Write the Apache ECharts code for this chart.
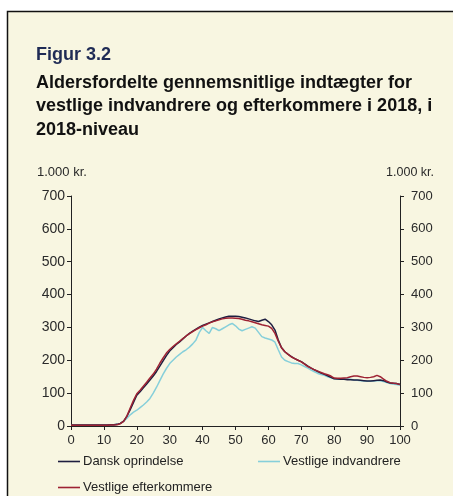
<!DOCTYPE html>
<html>
<head>
<meta charset="utf-8">
<script src="https://cdn.jsdelivr.net/npm/echarts@6/dist/echarts.min.js"></script>
<style>
  html, body { margin: 0; padding: 0; background: #fff; }
  #chart { width: 453px; height: 496px; }
</style>
</head>
<body>
<div id="chart"></div>
<script>
// alder 0-100
const ages = Array.from({ length: 101 }, (_, i) => i);

const dansk = [
  3, 3, 3, 3, 3, 3, 3, 3, 3, 3,
  3, 3, 4, 4, 5, 8, 15, 30, 50, 72,
  94, 104, 116, 128, 140, 152, 166, 182, 198, 214,
  228, 238, 248, 256, 265, 274, 282, 289, 295, 301,
  306, 310, 314, 318, 322, 326, 329, 332, 334, 334,
  334, 333, 331, 329, 326, 323, 320, 318, 322, 325,
  318, 308, 292, 262, 238, 226, 218, 211, 205, 200,
  196, 189, 182, 176, 171, 166, 161, 157, 153, 148,
  144, 143, 142, 142, 141, 141, 140, 140, 139, 138,
  137, 137, 138, 139, 140, 138, 134, 131, 130, 129,
  127
];

const indvandrere = [
  3, 3, 3, 3, 3, 3, 3, 3, 3, 3,
  3, 3, 3, 3, 5, 8, 14, 24, 34, 42,
  48, 56, 64, 73, 84, 100, 118, 138, 158, 175,
  190, 200, 210, 218, 226, 232, 240, 250, 262, 285,
  300, 290, 282, 300, 296, 290, 296, 302, 308, 312,
  305, 295, 290, 294, 298, 302, 298, 285, 272, 268,
  265, 262, 255, 232, 210, 200, 196, 192, 190, 190,
  186, 181, 176, 170, 165, 160, 157, 154, 150, 147,
  144, 143, 143, 144, 144, 142, 140, 139, 138, 137,
  136, 136, 137, 138, 138, 135, 132, 129, 127, 126,
  124
];

const efterkommere = [
  2, 2, 2, 2, 2, 2, 2, 2, 2, 2,
  2, 2, 3, 3, 4, 7, 14, 30, 55, 78,
  98, 109, 121, 133, 146, 158, 173, 191, 207, 222,
  233, 242, 250, 258, 266, 274, 281, 287, 293, 299,
  304, 308, 313, 317, 320, 323, 326, 328, 329, 329,
  328, 327, 325, 322, 320, 317, 314, 311, 308, 306,
  304, 297, 282, 258, 238, 226, 218, 210, 205, 200,
  195, 188, 181, 176, 171, 167, 163, 159, 156, 152,
  146, 145, 145, 146, 147, 150, 152, 152, 150, 148,
  147, 148, 150, 154, 150, 143, 136, 132, 130, 129,
  126
];

const yTicks = [0, 100, 200, 300, 400, 500, 600, 700];

function pairs(vals) {
  return ages.map((a, i) => [a, vals[i]]);
}

const font = 'Liberation Sans, Arial, sans-serif';
const axisCol = '#222';
const labelCol = '#2a2a2a';

const chart = echarts.init(document.getElementById('chart'), null, { renderer: 'canvas' });

function yAxisDef(pos, size, margin) {
  return {
    type: 'value',
    position: pos,
    min: yTicks[0],
    max: yTicks[yTicks.length - 1],
    interval: 100,
    axisLine: { show: true, lineStyle: { color: axisCol, width: 1 } },
    axisTick: { show: true, length: 4, lineStyle: { color: axisCol } },
    axisLabel: { color: labelCol, fontSize: size, fontFamily: font, margin: margin },
    splitLine: { show: false }
  };
}

function legendDef(name, left, top) {
  return {
    data: [name],
    left: left,
    top: top,
    icon: 'rect',
    itemWidth: 22,
    itemHeight: 1.6,
    itemGap: 0,
    padding: 0,
    selectedMode: false,
    textStyle: { color: '#222', fontSize: 13, fontFamily: font, padding: [0, 0, 0, -2] }
  };
}

chart.setOption({
  backgroundColor: '#ffffff',
  animation: false,
  graphic: [
    {
      type: 'rect',
      z: -10,
      shape: { x: 7.5, y: 11.5, width: 520, height: 520 },
      style: { fill: '#F8F6E1', stroke: '#111', lineWidth: 1.5 }
    },
    {
      type: 'text', left: 36, top: 46,
      style: { text: 'Figur 3.2', fill: '#1F2B55', font: 'bold 18px ' + font }
    },
    {
      type: 'text', left: 36, top: 71,
      style: {
        text: 'Aldersfordelte gennemsnitlige indtægter for\nvestlige indvandrere og efterkommere i 2018, i\n2018-niveau',
        fill: '#111', font: 'bold 18px ' + font, lineHeight: 23.5
      }
    },
    {
      type: 'text', left: 37, top: 166,
      style: { text: '1.000 kr.', fill: labelCol, font: '13px ' + font }
    },
    {
      type: 'text', right: 19, top: 166,
      style: { text: '1.000 kr.', fill: labelCol, font: '12.5px ' + font }
    }
  ],
  legend: [
    legendDef('Dansk oprindelse', 58, 455),
    legendDef('Vestlige indvandrere', 258, 455),
    legendDef('Vestlige efterkommere', 58, 481)
  ],
  grid: { left: 71, right: 53, top: 196, bottom: 70, containLabel: false },
  xAxis: {
    type: 'value',
    min: 0,
    max: 100,
    interval: 10,
    axisLine: { show: true, onZero: false, lineStyle: { color: axisCol, width: 1 } },
    axisTick: { show: true, length: 4, lineStyle: { color: axisCol } },
    axisLabel: { color: labelCol, fontSize: 13, fontFamily: font, margin: 8 },
    splitLine: { show: false }
  },
  yAxis: [yAxisDef('left', 14, 6), yAxisDef('right', 13, 11)],
  series: [
    {
      name: 'Dansk oprindelse', type: 'line', showSymbol: false, symbol: 'none',
      data: pairs(dansk), z: 3,
      lineStyle: { color: '#1E1E40', width: 1.5 }, itemStyle: { color: '#1E1E40' }
    },
    {
      name: 'Vestlige indvandrere', type: 'line', showSymbol: false, symbol: 'none',
      data: pairs(indvandrere), z: 2,
      lineStyle: { color: '#86CFDA', width: 1.5 }, itemStyle: { color: '#86CFDA' }
    },
    {
      name: 'Vestlige efterkommere', type: 'line', showSymbol: false, symbol: 'none',
      data: pairs(efterkommere), z: 4,
      lineStyle: { color: '#9E2233', width: 1.5 }, itemStyle: { color: '#9E2233' }
    }
  ]
});
</script>
</body>
</html>
